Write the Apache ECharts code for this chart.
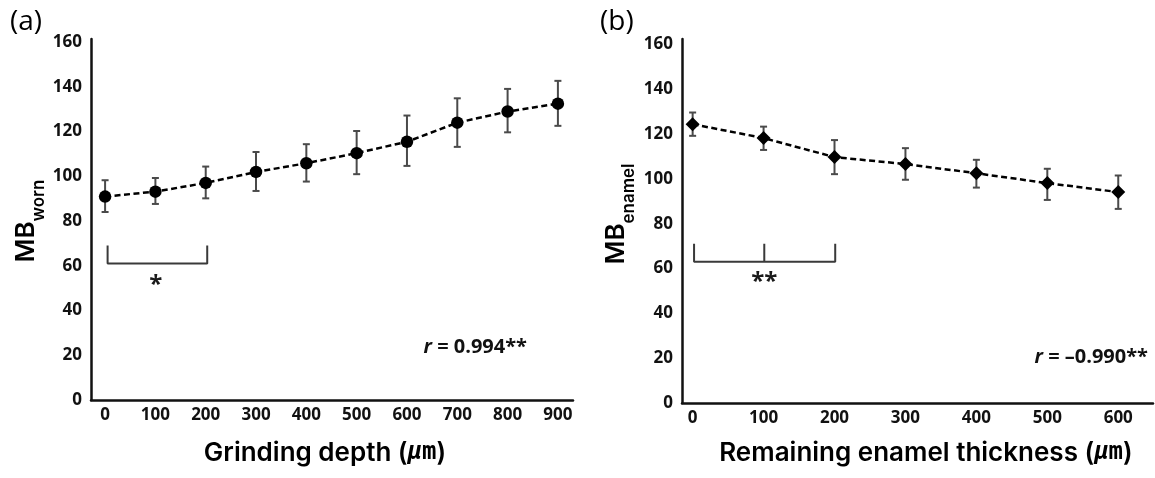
<!DOCTYPE html>
<html>
<head>
<meta charset="utf-8">
<script src="https://cdn.jsdelivr.net/npm/echarts@6/dist/echarts.min.js"></script>
<style>
  html, body { margin: 0; padding: 0; background: #fff; }
  #chart { width: 1155px; height: 478px; }
</style>
</head>
<body>
<div id="chart"></div>
<script>
// (a) MB_worn against grinding depth (mean with error bar range)
const depthA = [0, 100, 200, 300, 400, 500, 600, 700, 800, 900];
const mbWorn = [90.9, 93.1, 97.0, 101.9, 105.8, 110.3, 115.4, 123.9, 128.9, 132.4];
const mbWornLow = [84.0, 87.6, 90.1, 93.4, 97.6, 100.9, 104.6, 113.1, 119.6, 122.5];
const mbWornHigh = [98.2, 99.2, 104.3, 110.8, 114.3, 120.2, 127.1, 134.8, 139.0, 142.6];

// (b) MB_enamel against remaining enamel thickness
const thicknessB = [0, 100, 200, 300, 400, 500, 600];
const mbEnamel = [124.4, 118.2, 109.7, 106.6, 102.5, 98.1, 94.1];
const mbEnamelLow = [119.2, 112.9, 102.1, 99.6, 96.1, 90.6, 86.6];
const mbEnamelHigh = [129.6, 123.3, 117.3, 113.7, 108.5, 104.5, 101.5];

// shared y tick labels
const yTicks = [0, 20, 40, 60, 80, 100, 120, 140, 160];

// significance brackets (data coordinates) and their marks
const bracketA = [[5, 69], [5, 61], [203, 61], [203, 69]];
const bracketB = [[2, 71], [2, 63], [101, 63], [101, 71], [101, 63], [201, 63], [201, 71]];
const starPosA = [101, 53.3];
const starPosB = [101, 55.7];
const starTextA = '*';
const starTextB = '**';

// correlation coefficients
const corrA = '0.994**';
const corrB = '\u20130.990**';

const tickFont = { fontFamily: 'Open Sans', fontWeight: 'bold', fontSize: 17, color: '#111' };
const axisLineStyle = { color: '#111', width: 2.5 };

function xAxisCfg(idx, min, max, ticks) {
  return {
    gridIndex: idx, type: 'value', min: min, max: max,
    axisLine: { show: true, onZero: false, lineStyle: axisLineStyle },
    axisTick: { show: false },
    splitLine: { show: false },
    axisLabel: Object.assign({ customValues: ticks, margin: 7 }, tickFont)
  };
}
function yAxisCfg(idx, max) {
  return {
    gridIndex: idx, type: 'value', min: 0, max: max,
    axisLine: { show: true, onZero: false, lineStyle: axisLineStyle },
    axisTick: { show: false },
    splitLine: { show: false },
    axisLabel: Object.assign({ customValues: yTicks, margin: 9, padding: [0, 0, 6, 0] }, tickFont)
  };
}

function errorBars(idx, xs, lows, highs) {
  return {
    type: 'custom', xAxisIndex: idx, yAxisIndex: idx, z: 2, silent: true,
    encode: { x: 0, y: [1, 2] },
    data: xs.map((x, i) => [x, lows[i], highs[i]]),
    renderItem(params, api) {
      const lo = api.coord([api.value(0), api.value(1)]);
      const hi = api.coord([api.value(0), api.value(2)]);
      const w = 3.5;
      const style = { stroke: '#4a4a4a', lineWidth: 2 };
      return {
        type: 'group', children: [
          { type: 'line', shape: { x1: lo[0], y1: lo[1], x2: hi[0], y2: hi[1] }, style },
          { type: 'line', shape: { x1: lo[0] - w, y1: lo[1], x2: lo[0] + w, y2: lo[1] }, style },
          { type: 'line', shape: { x1: hi[0] - w, y1: hi[1], x2: hi[0] + w, y2: hi[1] }, style }
        ]
      };
    }
  };
}

function meanLine(idx, xs, ys, symbol, size) {
  return {
    type: 'line', xAxisIndex: idx, yAxisIndex: idx, z: 3, silent: true,
    data: xs.map((x, i) => [x, ys[i]]),
    symbol: symbol, symbolSize: size, showSymbol: true,
    itemStyle: { color: '#000' },
    lineStyle: { color: '#000', width: 2.5, type: [6, 3.5] }
  };
}

function bracket(idx, pts) {
  return {
    type: 'line', xAxisIndex: idx, yAxisIndex: idx, z: 2, silent: true,
    data: pts, symbol: 'none',
    lineStyle: { color: '#3a3a3a', width: 2, type: 'solid' }
  };
}

function stars(idx, pos, text) {
  return {
    type: 'custom', xAxisIndex: idx, yAxisIndex: idx, z: 3, silent: true,
    data: [pos],
    renderItem(params, api) {
      const p = api.coord([api.value(0), api.value(1)]);
      return {
        type: 'text', x: p[0], y: p[1] + 4,
        style: { text: text, align: 'center', verticalAlign: 'middle',
                 fontFamily: 'Open Sans', fontWeight: 'bold', fontSize: 24, fill: '#1a1a1a' }
      };
    }
  };
}

function corrText(x, y, value) {
  return {
    type: 'text', x: x, y: y,
    style: {
      text: '{i|r}{n| = ' + value + '}', align: 'right', verticalAlign: 'middle',
      rich: {
        i: { fontFamily: 'Open Sans', fontWeight: 'bold', fontStyle: 'italic', fontSize: 20, fill: '#111' },
        n: { fontFamily: 'Open Sans', fontWeight: 'bold', fontSize: 20, fill: '#111' }
      }
    }
  };
}

function yTitle(x, y, sub) {
  return {
    type: 'text', x: x, y: y, rotation: Math.PI / 2,
    style: {
      text: '{m|MB}{s|' + sub + '}', align: 'center', verticalAlign: 'middle',
      rich: {
        m: { fontFamily: 'Inter', fontWeight: 600, fontSize: 26, lineHeight: 34, verticalAlign: 'top', fill: '#000' },
        s: { fontFamily: 'Inter', fontWeight: 600, fontSize: 17, lineHeight: 17, verticalAlign: 'bottom', fill: '#000' }
      }
    }
  };
}

function xTitle(x, y, label) {
  return {
    type: 'text', x: x, y: y,
    style: {
      text: '{t|' + label + ' (}{u|\u03bc}{m|m}{t|)}', align: 'center', verticalAlign: 'middle',
      rich: {
        t: { fontFamily: 'Inter', fontWeight: 600, fontSize: 26, fill: '#000' },
        u: { fontFamily: 'DejaVu Sans Mono', fontStyle: 'italic', fontWeight: 'bold', fontSize: 24, fill: '#000' },
        m: { fontFamily: 'DejaVu Sans Mono', fontWeight: 'bold', fontSize: 24, fill: '#000' }
      }
    }
  };
}

function panelLabel(x, y, text) {
  return {
    type: 'text', x: x, y: y,
    style: { text: text, align: 'left', verticalAlign: 'middle',
             fontFamily: 'Open Sans', fontSize: 28, fill: '#000' }
  };
}

const chart = echarts.init(document.getElementById('chart'), null, { renderer: 'canvas' });
chart.setOption({
  animation: false,
  backgroundColor: '#fff',
  grid: [
    { left: 91, top: 39, width: 482, height: 361 },
    { left: 682, top: 39, width: 471, height: 364 }
  ],
  xAxis: [
    xAxisCfg(0, -28, 930, depthA),
    xAxisCfg(1, -15, 649, thicknessB)
  ],
  yAxis: [
    yAxisCfg(0, 161.3),
    yAxisCfg(1, 162.4)
  ],
  series: [
    errorBars(0, depthA, mbWornLow, mbWornHigh),
    meanLine(0, depthA, mbWorn, 'circle', 12.5),
    bracket(0, bracketA),
    stars(0, starPosA, starTextA),
    errorBars(1, thicknessB, mbEnamelLow, mbEnamelHigh),
    meanLine(1, thicknessB, mbEnamel, 'diamond', 14),
    bracket(1, bracketB),
    stars(1, starPosB, starTextB)
  ],
  graphic: [
    panelLabel(10, 22, '(a)'),
    panelLabel(600, 22, '(b)'),
    yTitle(30, 221, 'worn'),
    yTitle(620, 214, 'enamel'),
    xTitle(325, 453, 'Grinding depth'),
    xTitle(926, 453, 'Remaining enamel thickness'),
    corrText(527, 347, corrA),
    corrText(1148, 357, corrB)
  ]
});
</script>
</body>
</html>
